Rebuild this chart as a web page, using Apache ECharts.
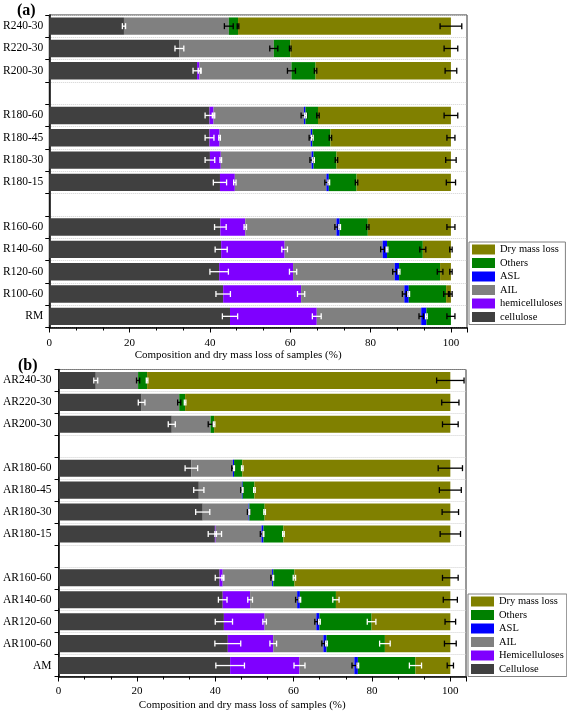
<!DOCTYPE html>
<html><head><meta charset="utf-8">
<script src="https://cdn.jsdelivr.net/npm/echarts@6/dist/echarts.min.js"></script>
<style>html,body{margin:0;padding:0;background:#fff}#c{width:567px;height:712px}</style>
</head><body><div id="c"></div>
<script>
// ---------- Panel (a) ----------
const catsA = ['R240-30','R220-30','R200-30',' ','R180-60','R180-45','R180-30','R180-15','  ','R160-60','R140-60','R120-60','R100-60','RM'];
const cellA   = [18.6,32.4,36.8,null,39.9,39.9,40.0,42.5,null,42.6,42.8,42.3,43.3,45.0];
const hemiA   = [0,0,0.6,null,1.0,2.5,2.7,3.7,null,6.2,15.8,18.4,19.4,21.6];
const ailA    = [26.1,23.5,22.9,null,22.5,22.7,22.6,22.8,null,22.7,24.4,25.3,25.7,26.0];
const aslA    = [0,0,0,null,0.4,0.4,0.5,0.6,null,0.8,1.1,1.1,1.1,1.3];
const othA    = [2.3,4.1,6.0,null,3.1,4.5,5.7,6.9,null,7.0,8.9,10.2,9.3,6.1];
const dryA    = [53.0,40.0,33.7,null,33.1,30.0,28.5,23.5,null,20.7,7.0,2.7,1.2,0];
const errCellA = [0.4,1.1,1.0,null,1.1,1.1,1.2,1.65,null,1.45,1.5,2.3,1.8,1.9];
const errHemiA = [0,0,0.3,null,0.3,0.2,0.2,0.3,null,0.3,0.7,0.9,0.9,1.1];
const errAilA  = [1.1,1.0,1.0,null,0.7,0.4,0.4,0.4,null,0.4,0.5,0.5,0.5,0.55];
const errAslA  = [0,0,0,null,0.2,0.2,0.2,0.2,null,0.2,0.2,0.2,0.2,0.2];
const errOthA  = [0.2,0.2,0.3,null,0.3,0.3,0.3,0.3,null,0.3,0.75,0.7,0.6,1.0];
const errDryA  = [2.7,1.7,1.45,null,1.7,1.0,1.3,1.15,null,1.0,0.3,0.3,0.3,0];

// ---------- Panel (b) ----------
const catsB = ['AR240-30','AR220-30','AR200-30',' ','AR180-60','AR180-45','AR180-30','AR180-15','  ','AR160-60','AR140-60','AR120-60','AR100-60','AM'];
const cellB   = [9.5,21.2,28.9,null,33.9,35.8,36.8,39.9,null,41.1,41.9,42.2,43.2,43.8];
const hemiB   = [0,0,0,null,0,0,0,0.2,null,0.8,7.0,10.4,11.6,17.7];
const ailB    = [10.8,9.6,9.9,null,10.6,11.0,11.7,11.7,null,12.6,12.0,13.2,12.8,14.0];
const aslB    = [0,0,0,null,0.3,0.2,0.2,0.5,null,0.3,0.7,0.8,0.8,0.9];
const othB    = [2.3,1.5,0.9,null,2.1,3.0,3.9,5.1,null,5.4,9.2,13.3,14.9,14.7];
const dryB    = [77.4,67.7,60.3,null,53.1,50.0,47.4,42.6,null,39.8,29.2,20.1,16.7,8.9];
const errCellB = [0.5,0.85,0.9,null,1.6,1.3,1.8,1.7,null,1.1,1.1,2.2,3.3,3.65];
const errHemiB = [0,0,0,null,0,0,0,0.2,null,0.2,0.6,0.45,0.85,1.4];
const errAilB  = [0.4,0.4,0.6,null,0.3,0.3,0.3,0.3,null,0.3,0.4,0.4,0.4,0.6];
const errAslB  = [0,0,0,null,0.1,0.1,0.1,0.1,null,0.1,0.2,0.2,0.2,0.2];
const errOthB  = [0.2,0.2,0.2,null,0.2,0.2,0.2,0.2,null,0.3,0.8,1.1,1.35,1.55];
const errDryB  = [3.5,2.2,2.0,null,3.1,2.8,2.1,2.6,null,2.0,1.8,1.35,1.5,0.8];

const xTicks = [0,20,40,60,80,100];
const xTitle = 'Composition and dry mass loss of samples (%)';

const COLORS = ['#404040','#7f00ff','#808080','#0000ff','#008000','#808000'];
const FONT = "'Liberation Serif','Times New Roman',serif";

function errData(parts, errs, white) {
  const out = [];
  for (let i = 0; i < parts[0].length; i++) {
    if (parts[0][i] == null) continue;
    let cum = 0;
    for (let k = 0; k < parts.length; k++) {
      cum += parts[k][i];
      if (parts[k][i] > 0 && errs[k][i] > 0) out.push([cum, i, errs[k][i], white[k]]);
    }
  }
  return out;
}
function renderErr(params, api) {
  const end = api.value(0), i = api.value(1), e = api.value(2);
  const p1 = api.coord([end - e, i]), p2 = api.coord([end + e, i]);
  const col = api.value(3) ? '#ffffff' : '#000000';
  const h = 3, lw = 1.3;
  return {type:'group', children:[
    {type:'line', shape:{x1:p1[0],y1:p1[1],x2:p2[0],y2:p2[1]}, style:{stroke:col,lineWidth:lw}},
    {type:'line', shape:{x1:p1[0],y1:p1[1]-h,x2:p1[0],y2:p1[1]+h}, style:{stroke:col,lineWidth:lw}},
    {type:'line', shape:{x1:p2[0],y1:p2[1]-h,x2:p2[0],y2:p2[1]+h}, style:{stroke:col,lineWidth:lw}}
  ]};
}

function xAxisCfg(gi, margin, nameGap) {
  return {
    type:'value', gridIndex:gi, min:0, max:104, interval:20,
    name:xTitle, nameLocation:'middle', nameGap:nameGap,
    nameTextStyle:{fontFamily:FONT, fontSize:11, color:'#000', padding:[0,40,0,0]},
    axisLine:{show:true, lineStyle:{color:'#000', width:1.5}},
    axisTick:{show:true, inside:false, length:5, lineStyle:{color:'#000', width:1}},
    minorTick:{show:true, splitNumber:3, length:3, lineStyle:{color:'#000', width:1}},
    axisLabel:{fontFamily:FONT, fontSize:11, color:'#000', margin:margin,
      formatter: v => (xTicks.indexOf(v) >= 0 ? String(v) : '')},
    splitLine:{show:false}
  };
}
function yAxisCfg(gi, cats, margin) {
  return {
    type:'category', gridIndex:gi, data:cats, inverse:true,
    axisLine:{show:true, lineStyle:{color:'#000', width:1.5}},
    axisTick:{show:true, length:4, lineStyle:{color:'#000'}},
    axisLabel:{fontFamily:FONT, fontSize:11.5, color:'#000', margin:margin},
    splitLine:{show:true, lineStyle:{color:'#d0d0d0', type:'dotted', width:1}}
  };
}
function barSeries(names, parts, gi) {
  return parts.map((d, k) => ({
    type:'bar', name:names[k], xAxisIndex:gi, yAxisIndex:gi, stack:'s'+gi,
    barWidth:'78%', data:d, itemStyle:{color:COLORS[k]}, silent:true
  }));
}

const partsA = [cellA, hemiA, ailA, aslA, othA, dryA];
const partsB = [cellB, hemiB, ailB, aslB, othB, dryB];
const namesA = ['cellulose','hemicelluloses','AIL','ASL','Others','Dry mass loss'];
const namesB = ['Cellulose','Hemicelluloses','AIL','ASL','Others','Dry mass loss'];

const legendCommon = {
  orient:'vertical', itemWidth:23, itemHeight:10, itemGap:2.5,
  icon:'rect', borderColor:'#808080', borderWidth:1, padding:[2,3,2,3],
  backgroundColor:'#fff',
  textStyle:{fontFamily:FONT, fontSize:10.5, color:'#000'}, selectedMode:false
};

const option = {
  animation:false,
  backgroundColor:'#fff',
  title:[
    {text:'(a)', left:12, top:-2, textStyle:{fontFamily:FONT, fontSize:16, fontWeight:'bold', color:'#000'}},
    {text:'(b)', left:13, top:353, textStyle:{fontFamily:FONT, fontSize:16, fontWeight:'bold', color:'#000'}}
  ],
  legend:[
    Object.assign({}, legendCommon, {left:469, top:242, data:namesA.slice().reverse()}),
    Object.assign({}, legendCommon, {left:468, top:594, data:namesB.slice().reverse()})
  ],
  grid:[
    {left:48, top:15, width:419, height:312.5, show:true, borderColor:'#333', borderWidth:1, backgroundColor:'transparent'},
    {left:54, top:369.5, width:412, height:307, show:true, borderColor:'#333', borderWidth:1, backgroundColor:'transparent'}
  ],
  xAxis:[xAxisCfg(0, 10, 22), xAxisCfg(1, 9, 23)],
  yAxis:[yAxisCfg(0, catsA, 6), yAxisCfg(1, catsB, 7)],
  series: [].concat(
    barSeries(namesA, partsA, 0),
    barSeries(namesB, partsB, 1),
    [{
      type:'custom', name:'errA', xAxisIndex:0, yAxisIndex:0, z:10, silent:true,
      renderItem:renderErr, encode:{x:0, y:1},
      data: errData(partsA, [errCellA, errHemiA, errAilA, errAslA, errOthA, errDryA], [1,1,0,1,0,0])
    },{
      type:'custom', name:'errB', xAxisIndex:1, yAxisIndex:1, z:10, silent:true,
      renderItem:renderErr, encode:{x:0, y:1},
      data: errData(partsB, [errCellB, errHemiB, errAilB, errAslB, errOthB, errDryB], [1,1,0,1,1,0])
    }]
  )
};
const chart = echarts.init(document.getElementById('c'), null, {renderer:'canvas'});
chart.setOption(option);
</script>
</body></html>
